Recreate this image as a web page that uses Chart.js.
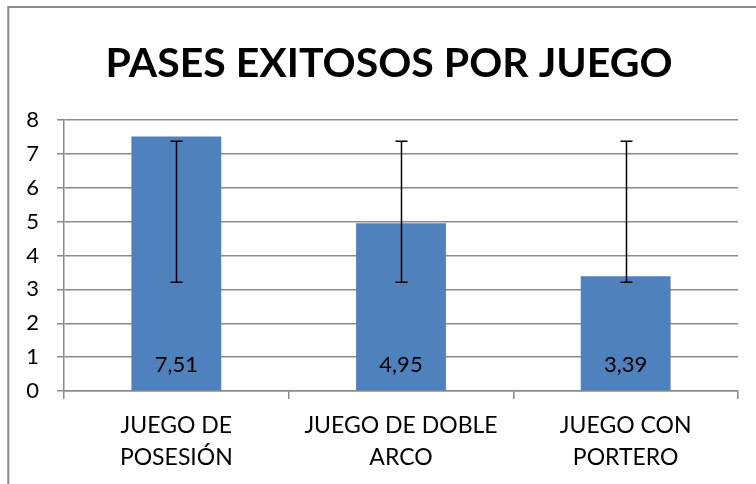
<!DOCTYPE html>
<html><head><meta charset="utf-8">
<script src="https://cdn.jsdelivr.net/npm/chart.js@4"></script>
<style>html,body{margin:0;padding:0;background:#fff}canvas{display:block}</style>
</head><body>
<canvas id="c" width="756" height="484"></canvas>
<script>
const categories = [["JUEGO DE", "POSESIÓN"], ["JUEGO DE DOBLE", "ARCO"], ["JUEGO CON", "PORTERO"]];
const values = [7.51, 4.95, 3.39];
const valueLabels = ["7,51", "4,95", "3,39"];
const errLow = [3.21, 3.21, 3.21];
const errHigh = [7.37, 7.37, 7.37];
const yMin = 0, yMax = 8, yStep = 1;
const chartTitle = "PASES EXITOSOS POR JUEGO";

const FONT = "Lato, Carlito, 'Open Sans', sans-serif";

const framePlugin = {
  id: 'frame',
  beforeDraw(chart) {
    const ctx = chart.ctx;
    ctx.save();
    ctx.fillStyle = '#fff';
    ctx.fillRect(0, 0, chart.width, chart.height);
    ctx.strokeStyle = '#8a8a8a';
    ctx.lineWidth = 2;
    ctx.strokeRect(8.3, 7, chart.width + 50, chart.height + 50);
    ctx.restore();
  }
};

const errorBarPlugin = {
  id: 'errorBars',
  afterDatasetsDraw(chart) {
    const ctx = chart.ctx;
    const y = chart.scales.y;
    const meta = chart.getDatasetMeta(0);
    ctx.save();
    ctx.strokeStyle = '#000';
    ctx.lineWidth = 1.5;
    meta.data.forEach((bar, i) => {
      const x = Math.round(bar.x) + 0.5;
      const yHi = y.getPixelForValue(errHigh[i]);
      const yLo = y.getPixelForValue(errLow[i]);
      ctx.beginPath();
      ctx.moveTo(x, yHi); ctx.lineTo(x, yLo);
      ctx.moveTo(x - 6, yHi); ctx.lineTo(x + 6, yHi);
      ctx.moveTo(x - 6, yLo); ctx.lineTo(x + 6, yLo);
      ctx.stroke();
    });
    ctx.restore();
  }
};

const valueLabelPlugin = {
  id: 'valueLabels',
  afterDatasetsDraw(chart) {
    const ctx = chart.ctx;
    const y = chart.scales.y;
    const meta = chart.getDatasetMeta(0);
    ctx.save();
    ctx.fillStyle = '#000';
    ctx.font = "22px " + FONT;
    ctx.textAlign = 'center';
    ctx.textBaseline = 'middle';
    meta.data.forEach((bar, i) => {
      ctx.fillText(valueLabels[i], bar.x, y.getPixelForValue(yMin) - 26);
    });
    ctx.restore();
  }
};

new Chart(document.getElementById('c'), {
  type: 'bar',
  data: {
    labels: categories,
    datasets: [{
      data: values,
      backgroundColor: '#4F81BD',
      borderWidth: 0,
      categoryPercentage: 1.0,
      barPercentage: 0.4
    }]
  },
  options: {
    responsive: false,
    animation: false,
    devicePixelRatio: 1,
    layout: { padding: { left: 22, right: 0, top: 0, bottom: 0 } },
    plugins: {
      legend: { display: false },
      tooltip: { enabled: false },
      title: {
        display: true,
        text: chartTitle,
        color: '#000',
        font: { family: FONT, size: 41, weight: 'bold', lineHeight: 1.2 },
        padding: { top: 39.5, bottom: 31.3 }
      }
    },
    scales: {
      x: {
        offset: true,
        grid: { display: true, offset: true, drawOnChartArea: false, drawTicks: true, tickLength: 8, color: '#8a8a8a', lineWidth: 1.5 },
        border: { display: true, color: '#8a8a8a', width: 1.5 },
        ticks: { color: '#000', font: { family: FONT, size: 23, lineHeight: 1.42 }, padding: 10, maxRotation: 0, autoSkip: false },
        afterFit(scale) { scale.height = 93; }
      },
      y: {
        min: yMin, max: yMax,
        ticks: { stepSize: yStep, color: '#000', font: { family: FONT, size: 22 }, padding: 18 },
        grid: { color: '#8a8a8a', lineWidth: 1.5, tickLength: 7, drawTicks: true },
        border: { display: true, color: '#8a8a8a', width: 1.5 },
        afterFit(scale) { scale.width = 42; }
      },
      yRightSpace: {
        position: 'right',
        min: yMin, max: yMax,
        grid: { display: false, drawTicks: false },
        border: { display: false },
        ticks: { display: false },
        afterFit(scale) { scale.width = 18; }
      }
    }
  },
  plugins: [framePlugin, errorBarPlugin, valueLabelPlugin]
});
</script>
</body></html>
